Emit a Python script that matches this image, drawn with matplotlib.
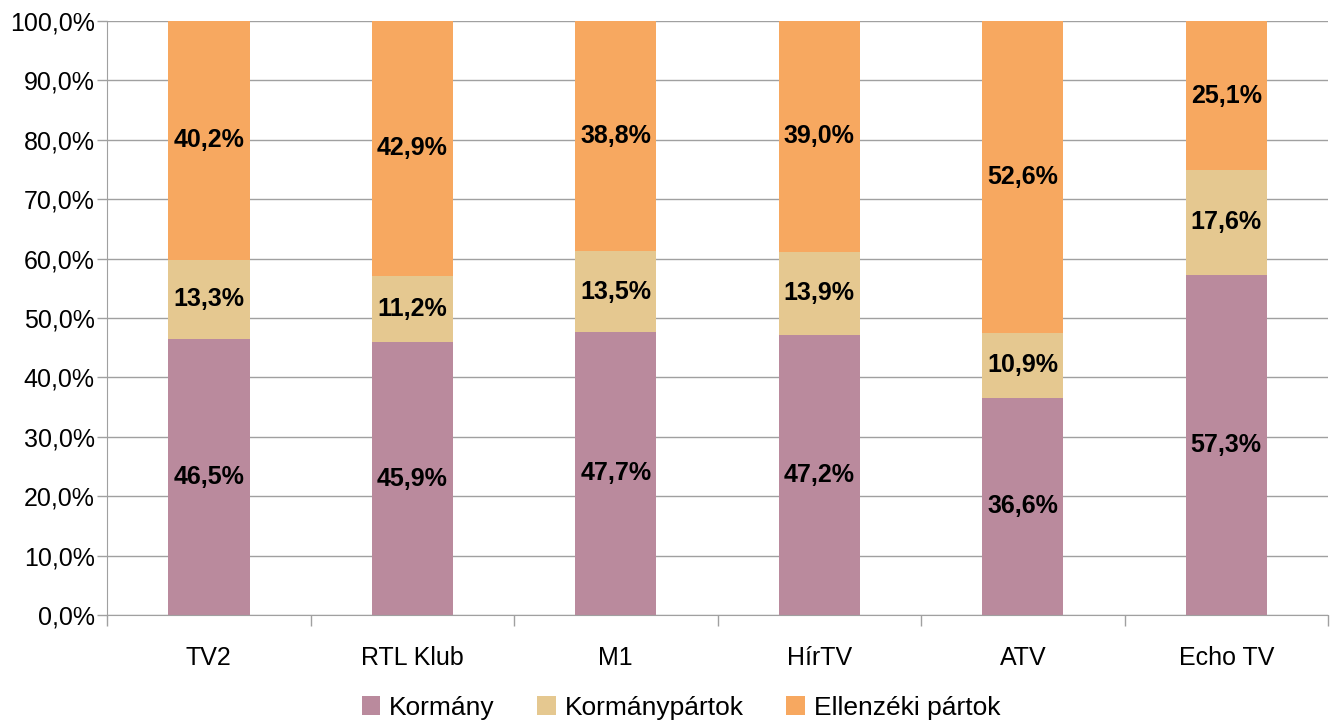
import numpy as np
import matplotlib.pyplot as plt
from matplotlib.ticker import FuncFormatter, MultipleLocator, FixedLocator

plt.rcParams['font.family'] = ['Liberation Sans', 'DejaVu Sans']

channels = ['TV2', 'RTL Klub', 'M1', 'HírTV', 'ATV', 'Echo TV']
kormany = [46.5, 45.9, 47.7, 47.2, 36.6, 57.3]
kormanypartok = [13.3, 11.2, 13.5, 13.9, 10.9, 17.6]
ellenzeki = [40.2, 42.9, 38.8, 39.0, 52.6, 25.1]

series = [
    ('Kormány', kormany, '#BA8A9D'),
    ('Kormánypártok', kormanypartok, '#E5C890'),
    ('Ellenzéki pártok', ellenzeki, '#F7A860'),
]

fig = plt.figure(figsize=(13.3, 7.22), dpi=100)
ax = fig.add_axes([0.0805, 0.148, 0.918, 0.823])

x = np.arange(len(channels))
bottom = np.zeros(len(channels))
for name, vals, col in series:
    vals = np.array(vals)
    ax.bar(x, vals, 0.4, bottom=bottom, color=col, label=name, zorder=2)
    for xi, b, v in zip(x, bottom, vals):
        ax.text(xi, b + v / 2, f'{v:.1f}%'.replace('.', ','), ha='center', va='center',
                fontsize=18, fontweight='bold', color='black', zorder=3)
    bottom += vals

ax.set_xlim(-0.5, len(channels) - 0.5)
ax.set_ylim(0, 100)
ax.yaxis.set_major_locator(MultipleLocator(10))
ax.yaxis.set_major_formatter(FuncFormatter(lambda v, p: f'{v:.1f}%'.replace('.', ',')))
ax.grid(axis='y', color='#A0A0A0', linewidth=1, zorder=0)
ax.set_axisbelow(True)

ax.set_xticks(x)
ax.set_xticklabels(channels)
ax.xaxis.set_minor_locator(FixedLocator(np.arange(-0.5, len(channels), 1)))
ax.tick_params(axis='x', which='major', length=0, pad=22, labelsize=18)
ax.tick_params(axis='x', which='minor', length=8, color='#A0A0A0', width=1)
ax.tick_params(axis='y', length=7, color='#A0A0A0', width=1, labelsize=18, pad=2)

for s in ['top', 'right']:
    ax.spines[s].set_visible(False)
for s in ['left', 'bottom']:
    ax.spines[s].set_color('#A0A0A0')

ax.legend(loc='upper center', bbox_to_anchor=(0.47, -0.118), ncol=3, frameon=False,
          fontsize=19, handlelength=0.7, handleheight=0.7, handletextpad=0.35,
          columnspacing=1.6, borderaxespad=0)

fig.savefig('out.png', dpi=100)
